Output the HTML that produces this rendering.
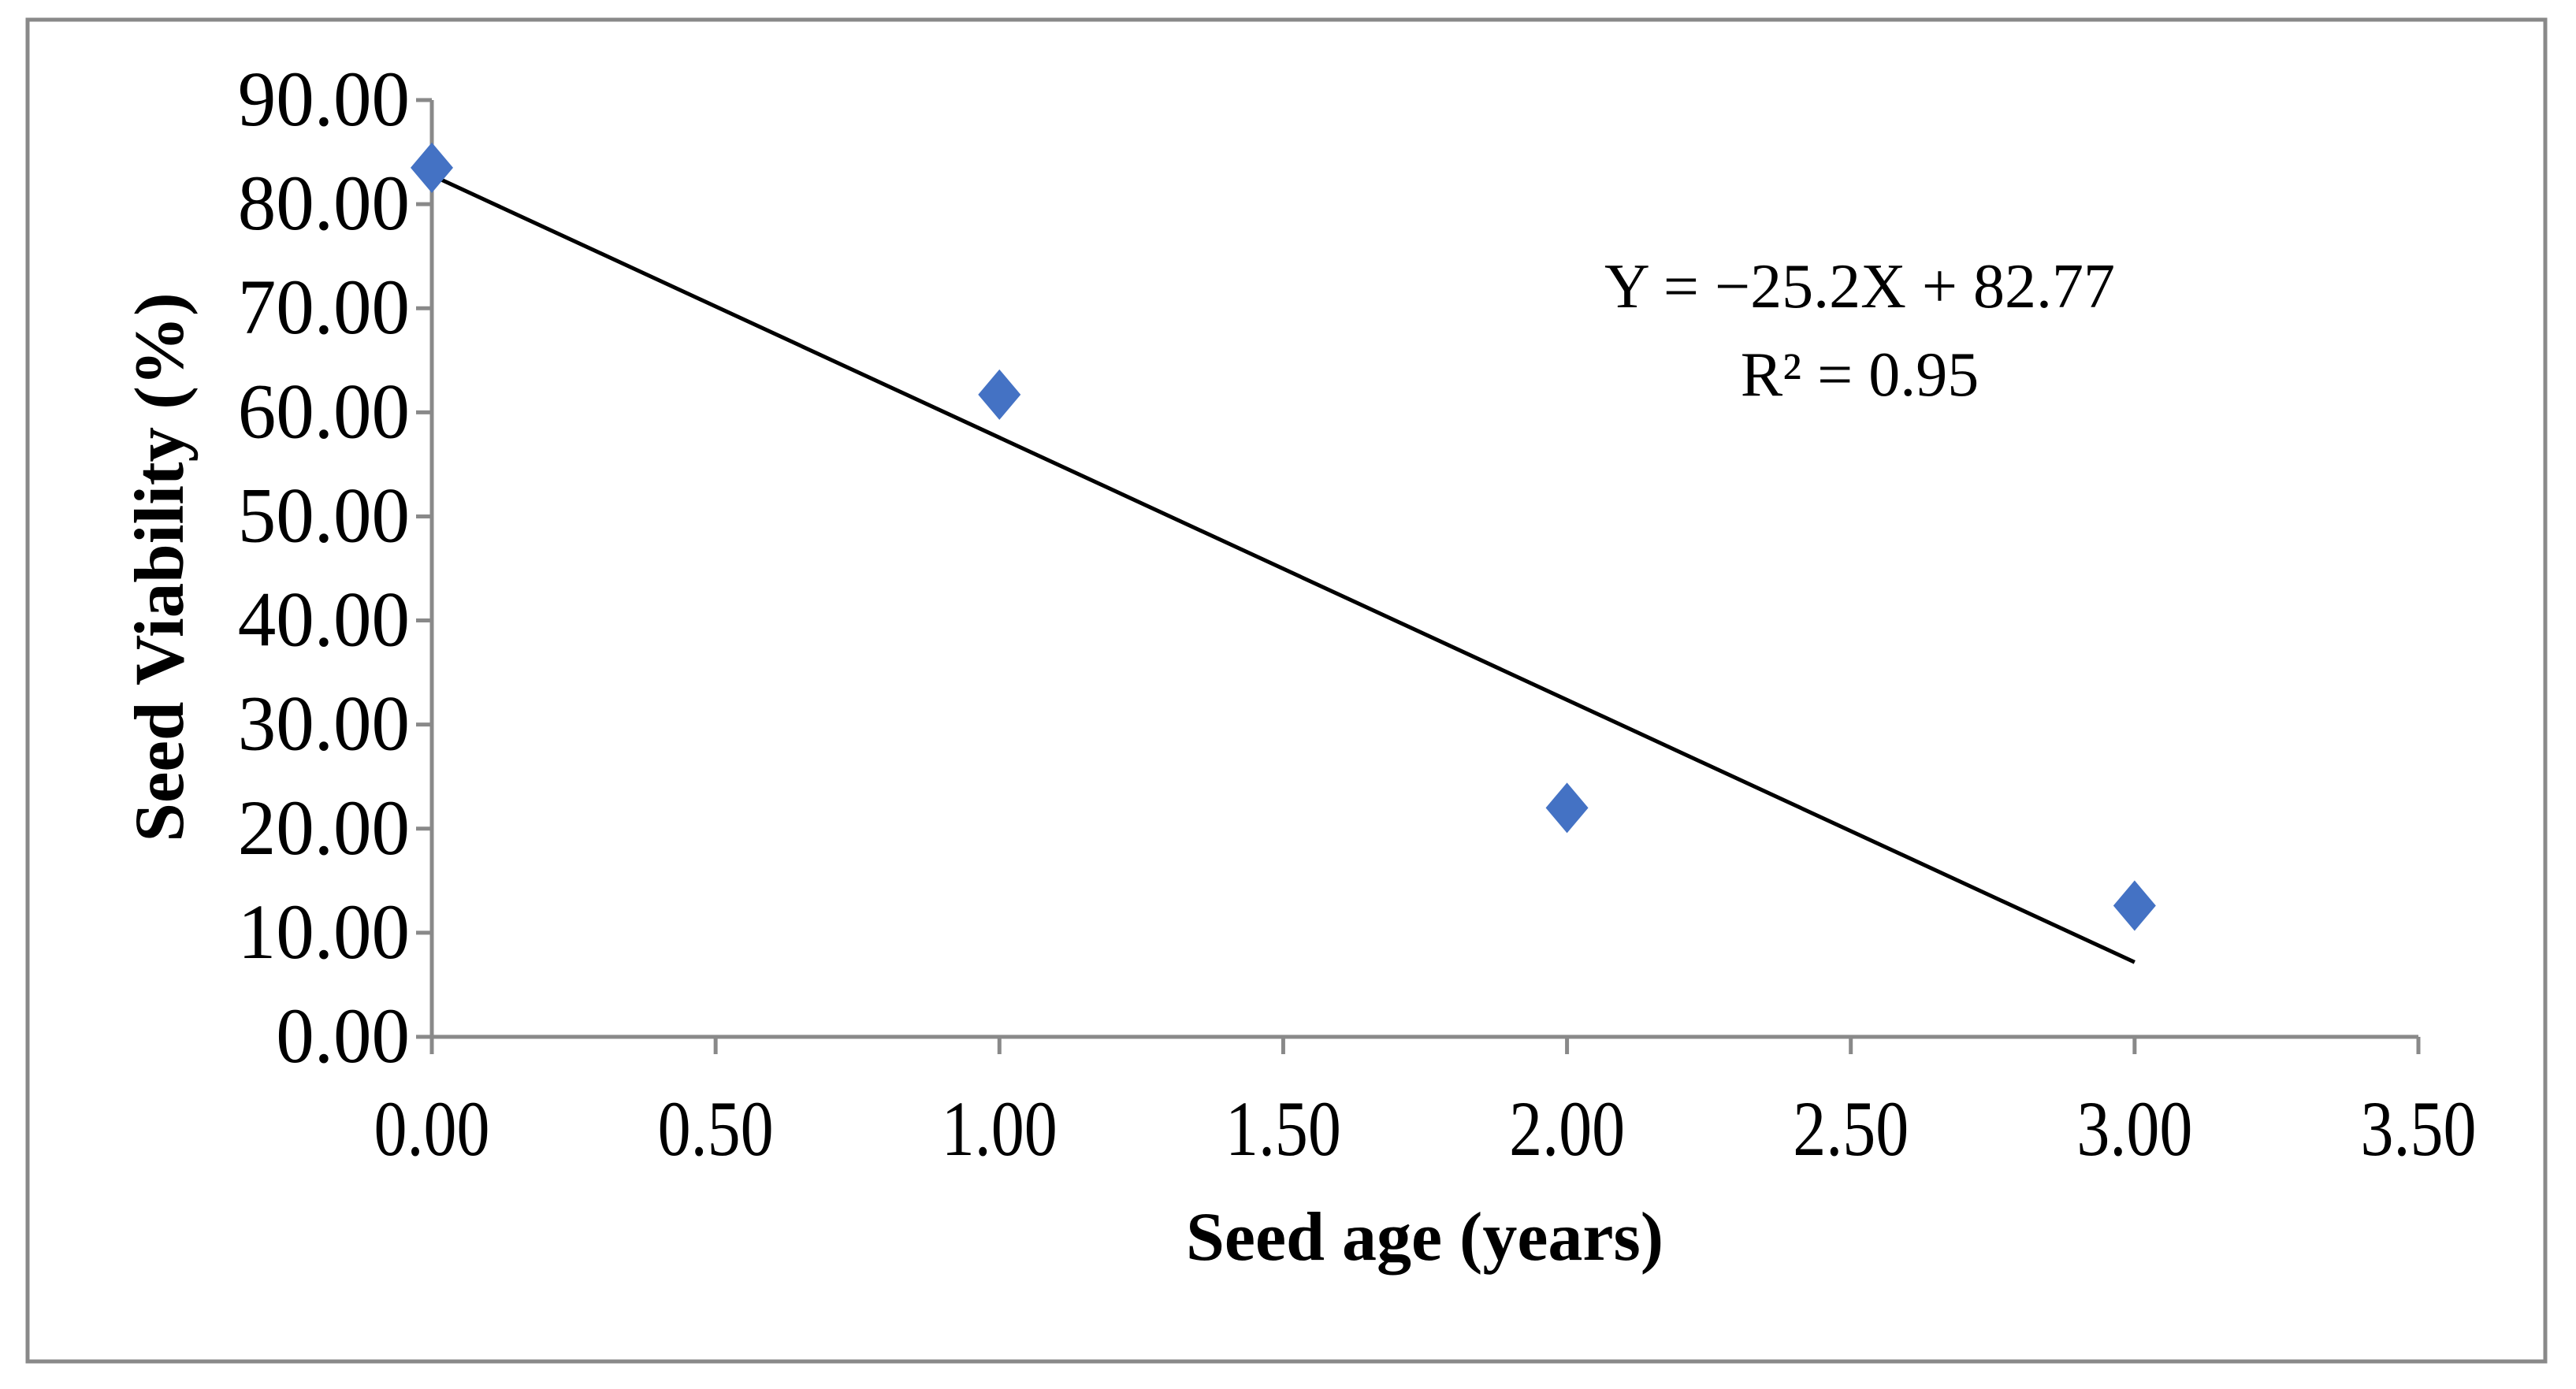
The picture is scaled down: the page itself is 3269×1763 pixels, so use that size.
<!DOCTYPE html>
<html><head><meta charset="utf-8"><style>
html,body{margin:0;padding:0;background:#fff;}
svg{display:block;font-family:"Liberation Serif",serif;}
</style></head><body>
<svg id="chart" width="3269" height="1763" viewBox="0 0 3269 1763" xmlns="http://www.w3.org/2000/svg">
<rect x="35" y="25" width="3195" height="1703" fill="#fff" stroke="#898989" stroke-width="5"/>
<g id="axes"></g>
<g id="marks"></g>
<text x="0" y="0" transform="translate(232,720) rotate(-90)" text-anchor="middle" font-weight="bold" font-size="89">Seed Viability (%)</text>
<text x="1808" y="1599" text-anchor="middle" font-weight="bold" font-size="88">Seed age (years)</text>
<text x="2360" y="390" text-anchor="middle" font-size="80">Y = −25.2X + 82.77</text>
<text x="2360" y="502" text-anchor="middle" font-size="80">R² = 0.95</text>
</svg>
<script>
const xTicks=[0,0.5,1,1.5,2,2.5,3,3.5];
const yTicks=[0,10,20,30,40,50,60,70,80,90];
const xLabels=["0.00","0.50","1.00","1.50","2.00","2.50","3.00","3.50"];
const yLabels=["0.00","10.00","20.00","30.00","40.00","50.00","60.00","70.00","80.00","90.00"];
const ages=[0,1,2,3];
const viability=[83.5,61.7,22.0,12.6];
const slope=-25.2, intercept=82.77;
const X0=548,X1=3069,Y0=1316,Y1=127;
const sx=v=>X0+(v-0)/(3.5)*(X1-X0);
const sy=v=>Y0-(v-0)/(90)*(Y0-Y1);
const NS="http://www.w3.org/2000/svg";
const axes=document.getElementById('axes'),marks=document.getElementById('marks');
function mk(t,a,p){const e=document.createElementNS(NS,t);for(const k in a)e.setAttribute(k,a[k]);p.appendChild(e);return e;}
let e=mk('line',{x1:X0,y1:Y1,x2:X0,y2:Y0,stroke:'#898989','stroke-width':5},axes);


e=mk('line',{x1:X0,y1:Y0,x2:X1,y2:Y0,stroke:'#898989','stroke-width':5},axes);


yTicks.forEach((v,i)=>{
 let t=mk('line',{x1:X0-20,y1:sy(v),x2:X0,y2:sy(v),stroke:'#898989','stroke-width':5},axes);
 
 
 let l=mk('text',{x:0,y:0,transform:`translate(${X0-28},${sy(v)+32}) scale(0.97,1)`,'text-anchor':'end','font-size':100},axes);
 l.textContent=yLabels[i];
 
 
});
xTicks.forEach((v,i)=>{
 let t=mk('line',{x1:sx(v),y1:Y0,x2:sx(v),y2:Y0+22,stroke:'#898989','stroke-width':5},axes);
 
 
 let l=mk('text',{x:0,y:0,transform:`translate(${sx(v)},${Y0+150}) scale(0.84,1)`,'text-anchor':'middle','font-size':100},axes);
 l.textContent=xLabels[i];
 
 
});
let tl=mk('line',{x1:sx(0),y1:sy(intercept),x2:sx(3),y2:sy(intercept+slope*3),stroke:'#000','stroke-width':5},marks);


ages.forEach((a,i)=>{
 const cx=sx(a),cy=sy(viability[i]);
 let d=mk('polygon',{points:`${cx},${cy-32} ${cx+27},${cy} ${cx},${cy+32} ${cx-27},${cy}`,fill:'#4472c4'},marks);
 
 
});
</script>
</body></html>
